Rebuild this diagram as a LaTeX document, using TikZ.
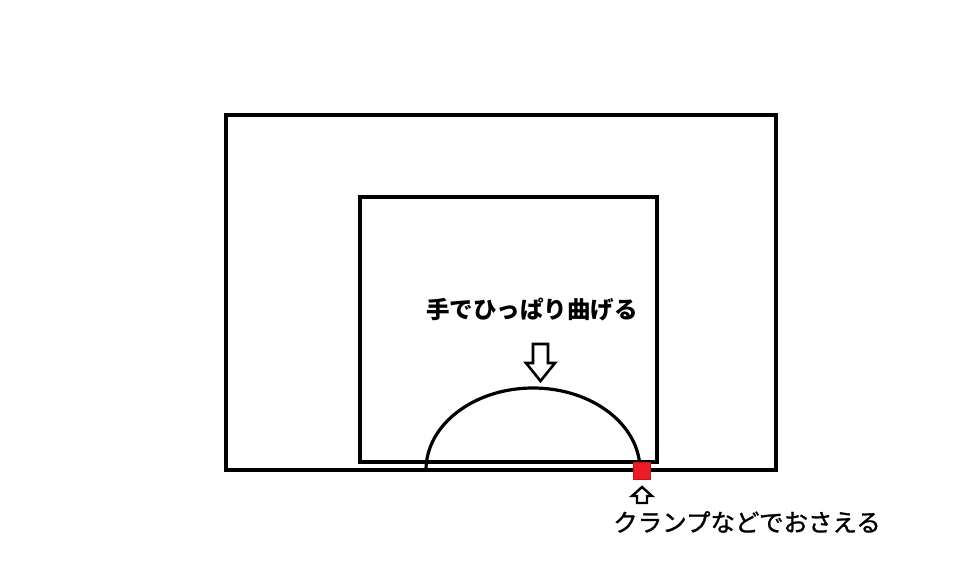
\documentclass[tikz,border=0pt]{standalone}
\usepackage{fontspec}
\newfontfamily\cjk{Noto Sans CJK JP}
\newfontfamily\cjkmed[FakeBold=1.2]{Noto Sans CJK JP}
\definecolor{clampred}{HTML}{ED1C24}
\begin{document}
\begin{tikzpicture}[x=1pt,y=-1pt,
  frame/.style={draw=black,line width=3.4pt},
  blockarrow/.style={draw=black,line width=2.6pt,fill=white,line join=miter},
  lbl/.style={inner sep=0pt}]
\useasboundingbox[fill=white] (0,0) rectangle (980,587);
% outer and inner frames
\draw[frame] (226,115) rectangle (776,470);
\draw[frame] (360,197) rectangle (657,462);
% bent strip
\draw[line width=3.2pt] (426,470) arc[start angle=180,end angle=360,x radius=107,y radius=82];
% clamp
\node[draw=clampred!80!black,fill=clampred,minimum size=17pt,inner sep=0pt,line width=0.8pt] (clamp) at (641.5,470.5) {};
% down arrow
\draw[blockarrow] (533,344) -- (548,344) -- (548,363) -- (555,363) -- (540.5,381) -- (526,363) -- (533,363) -- cycle;
% up arrow
\draw[blockarrow,line width=2.4pt] (642,487) -- (652,496) -- (647,496) -- (647,503) -- (637,503) -- (637,496) -- (632,496) -- cycle;
% labels
\node[lbl,font=\cjk\bfseries\fontsize{23.5}{28}\selectfont] (pull) at (532,310) {手でひっぱり曲げる};
\node[lbl,font=\cjkmed\fontsize{24.5}{29}\selectfont] (hold) at (747,522) {クランプなどでおさえる};
\end{tikzpicture}
\end{document}
